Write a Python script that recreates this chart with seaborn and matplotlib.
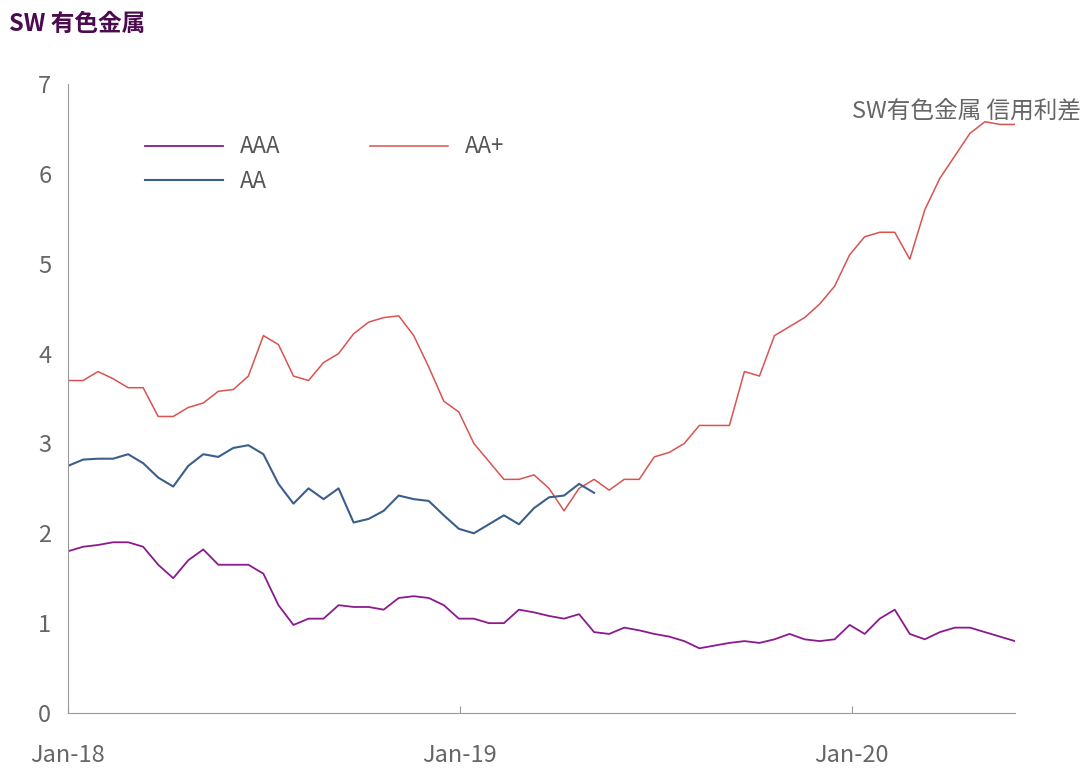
import pandas as pd
import numpy as np
import matplotlib
matplotlib.use('Agg')
import matplotlib.pyplot as plt
import matplotlib.dates as mdates
from matplotlib import font_manager
import seaborn as sns

# pick an installed CJK family
names = {f.name for f in font_manager.fontManager.ttflist}
cjk = [n for n in ['Noto Sans CJK SC', 'Noto Sans CJK JP', 'Noto Sans CJK TC', 'Noto Sans CJK KR'] if n in names]
plt.rcParams['font.family'] = 'sans-serif'
plt.rcParams['font.sans-serif'] = cjk + ['DejaVu Sans']

# ---- DATI (biweekly) ----
aa_plus = [3.7, 3.7, 3.8, 3.72, 3.62, 3.62, 3.3, 3.3, 3.4, 3.45, 3.58, 3.6, 3.75, 4.2, 4.1,
           3.75, 3.7, 3.9, 4.0, 4.22, 4.35, 4.4, 4.42, 4.2, 3.85, 3.47, 3.35, 3.0, 2.8, 2.6,
           2.6, 2.65, 2.5, 2.25, 2.5, 2.6, 2.48, 2.6, 2.6, 2.85, 2.9, 3.0, 3.2, 3.2, 3.2,
           3.8, 3.75, 4.2, 4.3, 4.4, 4.55, 4.75, 5.1, 5.3, 5.35, 5.35, 5.05, 5.6, 5.95, 6.2,
           6.45, 6.58, 6.55, 6.55]
aa = [2.75, 2.82, 2.83, 2.83, 2.88, 2.78, 2.62, 2.52, 2.75, 2.88, 2.85, 2.95, 2.98, 2.88,
      2.55, 2.33, 2.5, 2.38, 2.5, 2.12, 2.16, 2.25, 2.42, 2.38, 2.36, 2.2, 2.05, 2.0, 2.1,
      2.2, 2.1, 2.28, 2.4, 2.42, 2.55, 2.45]
aaa = [1.8, 1.85, 1.87, 1.9, 1.9, 1.85, 1.65, 1.5, 1.7, 1.82, 1.65, 1.65, 1.65, 1.55, 1.2,
       0.98, 1.05, 1.05, 1.2, 1.18, 1.18, 1.15, 1.28, 1.3, 1.28, 1.2, 1.05, 1.05, 1.0, 1.0,
       1.15, 1.12, 1.08, 1.05, 1.1, 0.9, 0.88, 0.95, 0.92, 0.88, 0.85, 0.8, 0.72, 0.75,
       0.78, 0.8, 0.78, 0.82, 0.88, 0.82, 0.8, 0.82, 0.98, 0.88, 1.05, 1.15, 0.88, 0.82,
       0.9, 0.95, 0.95, 0.9, 0.85, 0.8]

dates = pd.date_range('2018-01-01', periods=len(aa_plus), freq='14D')
df = pd.DataFrame({'date': dates, 'AAA': aaa, 'AA+': aa_plus,
                   'AA': aa + [np.nan] * (len(aa_plus) - len(aa))})

fig = plt.figure(figsize=(10.8, 7.73), dpi=100)
ax = fig.add_axes([68/1080, 1-713/773, (1015-68)/1080, (713-84)/773])

sns.lineplot(data=df, x='date', y='AAA', ax=ax, color='#8B1A8F', lw=1.3, label='AAA')
sns.lineplot(data=df, x='date', y='AA+', ax=ax, color='#D9534F', lw=1.1, label='AA+')
sns.lineplot(data=df, x='date', y='AA', ax=ax, color='#3B5F8A', lw=1.5, label='AA')

ax.set_ylim(0, 7)
ax.set_xlim(pd.Timestamp('2018-01-01'), pd.Timestamp('2020-06-01'))
ax.set_xticks(pd.to_datetime(['2018-01-01', '2019-01-01', '2020-01-01']))
ax.xaxis.set_major_formatter(mdates.DateFormatter('%b-%y'))
ax.tick_params(colors='#666666', labelsize=17, length=0, pad=12)
ax.tick_params(axis='x', direction='in', length=5, color='#999999', pad=22)
ax.set_xlabel('')
ax.set_ylabel('')
for s in ['top', 'right']:
    ax.spines[s].set_visible(False)
for s in ['left', 'bottom']:
    ax.spines[s].set_color('#999999')

h, l = ax.get_legend_handles_labels()
order = [0, 2, 1]
ax.legend([h[i] for i in order], [l[i] for i in order], loc='upper left',
          bbox_to_anchor=(0.06, 0.95), ncol=2, frameon=False,
          fontsize=16, labelcolor='#555555', handlelength=3.5, columnspacing=4)
ax.text(1.07, 0.975, 'SW有色金属 信用利差', transform=ax.transAxes, ha='right', va='top',
        fontsize=17, color='#666666')
fig.text(0.008, 0.985, 'SW 有色金属', fontsize=17, fontweight='bold', color='#4B0B4E',
         ha='left', va='top')

fig.savefig('out.png', dpi=100)
